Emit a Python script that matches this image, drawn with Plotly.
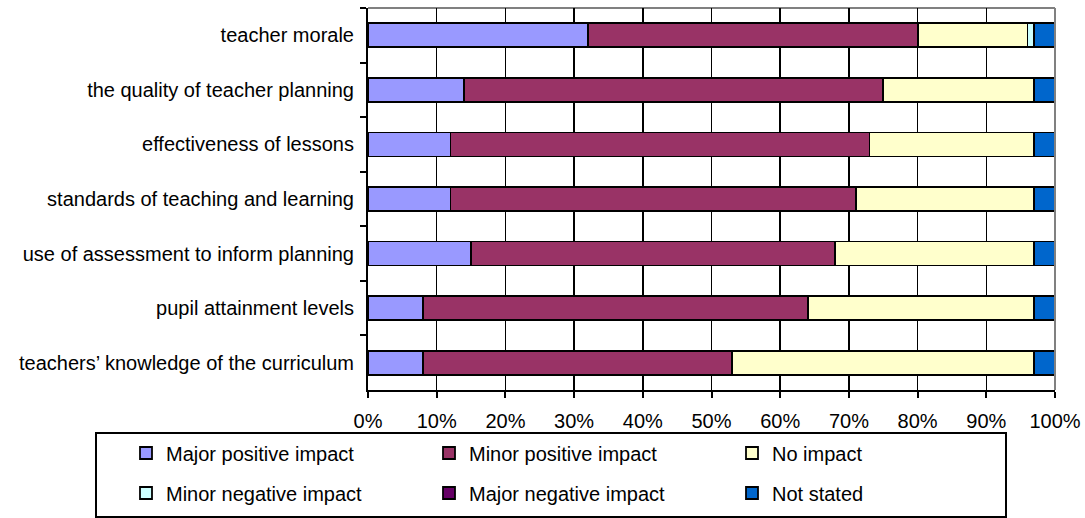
import plotly.graph_objects as go

categories = [
    "teacher morale",
    "the quality of teacher planning",
    "effectiveness of lessons",
    "standards of teaching and learning",
    "use of assessment to inform planning",
    "pupil attainment levels",
    "teachers’ knowledge of the curriculum",
]
series_names = [
    "Major positive impact",
    "Minor positive impact",
    "No impact",
    "Minor negative impact",
    "Major negative impact",
    "Not stated",
]
major_positive = [32, 14, 12, 12, 15, 8, 8]
minor_positive = [48, 61, 61, 59, 53, 56, 45]
no_impact = [16, 22, 24, 26, 29, 33, 44]
minor_negative = [1, 0, 0, 0, 0, 0, 0]
major_negative = [0, 0, 0, 0, 0, 0, 0]
not_stated = [3, 3, 3, 3, 3, 3, 3]
x_tick_vals = [0, 10, 20, 30, 40, 50, 60, 70, 80, 90, 100]
x_tick_text = ["0%", "10%", "20%", "30%", "40%", "50%", "60%", "70%", "80%", "90%", "100%"]

series_values = [major_positive, minor_positive, no_impact, minor_negative, major_negative, not_stated]
colors = ["#9999FF", "#993366", "#FFFFCC", "#CCFFFF", "#660066", "#0066CC"]

FONT = "Liberation Sans, Arial, sans-serif"
W, H = 1085, 518
L, R, T, B = 368, 30, 8, 128
PW, PH = W - L - R, H - T - B

def px_x(p):
    return (p - L) / PW

def px_y(p):
    return (H - B - p) / PH

legend_names = ["legend", "legend2", "legend3", "legend4", "legend5", "legend6"]
sym_x = [146, 449, 752, 146, 449, 752]
sym_y = [453, 453, 453, 493, 493, 493]

fig = go.Figure()
for i, (name, vals, col) in enumerate(zip(series_names, series_values, colors)):
    fig.add_trace(go.Bar(
        y=categories, x=vals, name=name, orientation="h",
        marker=dict(color=col, line=dict(color="black", width=1.8)),
        legend=legend_names[i],
    ))

layout_legends = {}
for i, ln in enumerate(legend_names):
    layout_legends[ln] = dict(
        x=px_x(sym_x[i] - 20), xanchor="left",
        y=px_y(sym_y[i]), yanchor="middle",
        orientation="h", bgcolor="rgba(0,0,0,0)", borderwidth=0,
        font=dict(family=FONT, size=20, color="black"),
        itemclick=False, itemdoubleclick=False,
    )

fig.update_layout(
    width=W, height=H,
    margin=dict(l=L, r=R, t=T, b=B, pad=0, autoexpand=False),
    barmode="stack", bargap=0.56,
    plot_bgcolor="white", paper_bgcolor="white",
    font=dict(family=FONT, size=20, color="black"),
    showlegend=True,
    **layout_legends,
)
fig.update_xaxes(
    range=[0, 100], tickvals=x_tick_vals, ticktext=x_tick_text,
    showgrid=True, gridcolor="black", gridwidth=1.5,
    showline=True, linecolor="black", linewidth=2,
    ticks="outside", ticklen=6, tickwidth=2, tickcolor="black",
    ticklabelstandoff=6, zeroline=False, automargin=False,
    tickfont=dict(family=FONT, size=20, color="black"),
)
fig.update_yaxes(
    autorange="reversed", categoryorder="array", categoryarray=categories,
    showline=True, linecolor="black", linewidth=2,
    ticks="outside", ticklen=6, tickwidth=2, tickcolor="black",
    tickson="boundaries", showgrid=False, ticklabelstandoff=8, automargin=False,
    tickfont=dict(family=FONT, size=20, color="black"),
)
# gray plot-area border on top and right
fig.add_shape(type="line", xref="paper", yref="paper", x0=0, x1=1, y0=1, y1=1,
              line=dict(color="#808080", width=2), layer="below")
fig.add_shape(type="line", xref="paper", yref="paper", x0=1, x1=1, y0=0, y1=1,
              line=dict(color="#808080", width=2), layer="above")
# legend frame
fig.add_shape(type="rect", xref="paper", yref="paper",
              x0=px_x(96), x1=px_x(1006), y0=px_y(517), y1=px_y(433),
              line=dict(color="black", width=2), fillcolor="rgba(0,0,0,0)")

fig.write_html(
    "out.html",
    config={"displayModeBar": False, "staticPlot": True},
    post_script="document.body.style.margin='0';document.body.style.overflow='hidden';",
)
